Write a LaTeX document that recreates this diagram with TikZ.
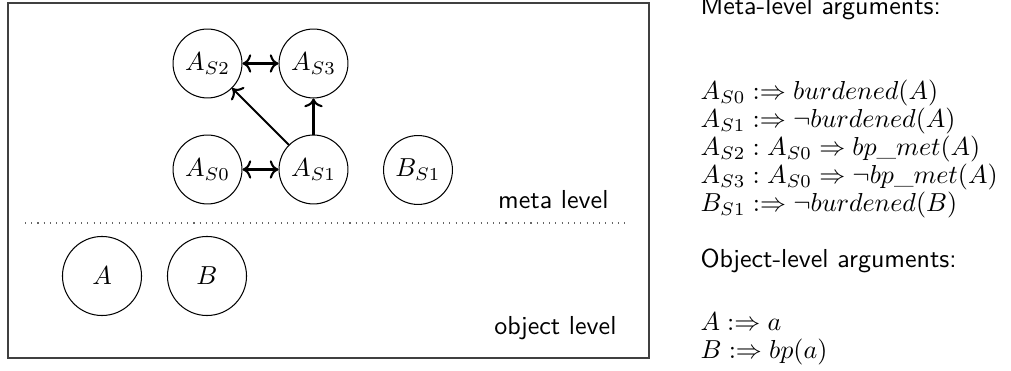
\documentclass[tikz,border=0pt]{standalone}
\usetikzlibrary{arrows.meta}
\begin{document}
\begin{tikzpicture}[x=0.3846pt,y=-0.3846pt,
  meta/.style={circle,draw,minimum size=26.5pt,inner sep=0pt},
  obj/.style={circle,draw,minimum size=30.4pt,inner sep=0pt},
  link/.style={thick,->},
  both/.style={thick,<->},
  lvl/.style={font=\sffamily,anchor=base east,inner sep=0pt},
  txt/.style={anchor=base west,inner sep=0pt},
  head/.style={txt,font=\sffamily}]
\useasboundingbox (0,0) rectangle (1011,371);

% frame and level separator
\draw[line width=0.7pt,black!75] (8,3) rectangle (649,358);
\coordinate (sepL) at (25,223);
\coordinate (sepR) at (628,223);
\draw[dotted,black!60] (sepL) -- (sepR);
\node[lvl] (metalbl) at (609,209) {meta level};
\node[lvl] (objlbl) at (617,335) {object level};

% meta-level arguments
\node[meta] (AS2) at (207.5,63.5) {$A_{S2}$};
\node[meta] (AS3) at (313.5,63.5) {$A_{S3}$};
\node[meta] (AS0) at (207.5,169.5) {$A_{S0}$};
\node[meta] (AS1) at (313.5,169.5) {$A_{S1}$};
\node[meta] (BS1) at (418,170) {$B_{S1}$};

% object-level arguments
\node[obj] (A) at (102,276) {$A$};
\node[obj] (B) at (207,276) {$B$};

% attacks
\draw[both] (AS2) -- (AS3);
\draw[both] (AS0) -- (AS1);
\draw[link] (AS1) -- (AS2);
\draw[link] (AS1) -- (AS3);

% legend
\node[head] (mh) at (700,15) {Meta-level arguments:};
\node[txt] (l0) at (700,100) {$A_{S0} :\Rightarrow burdened(A)$};
\node[txt] (l1) at (700,128) {$A_{S1} :\Rightarrow \neg burdened(A)$};
\node[txt] (l2) at (700,156) {$A_{S2} : A_{S0} \Rightarrow bp\_met(A)$};
\node[txt] (l3) at (700,184) {$A_{S3} : A_{S0} \Rightarrow \neg bp\_met(A)$};
\node[txt] (l4) at (700,212) {$B_{S1} :\Rightarrow \neg burdened(B)$};
\node[head] (oh) at (700,268) {Object-level arguments:};
\node[txt] (o0) at (700,331) {$A :\Rightarrow a$};
\node[txt] (o1) at (700,359) {$B :\Rightarrow bp(a)$};
\end{tikzpicture}
\end{document}
